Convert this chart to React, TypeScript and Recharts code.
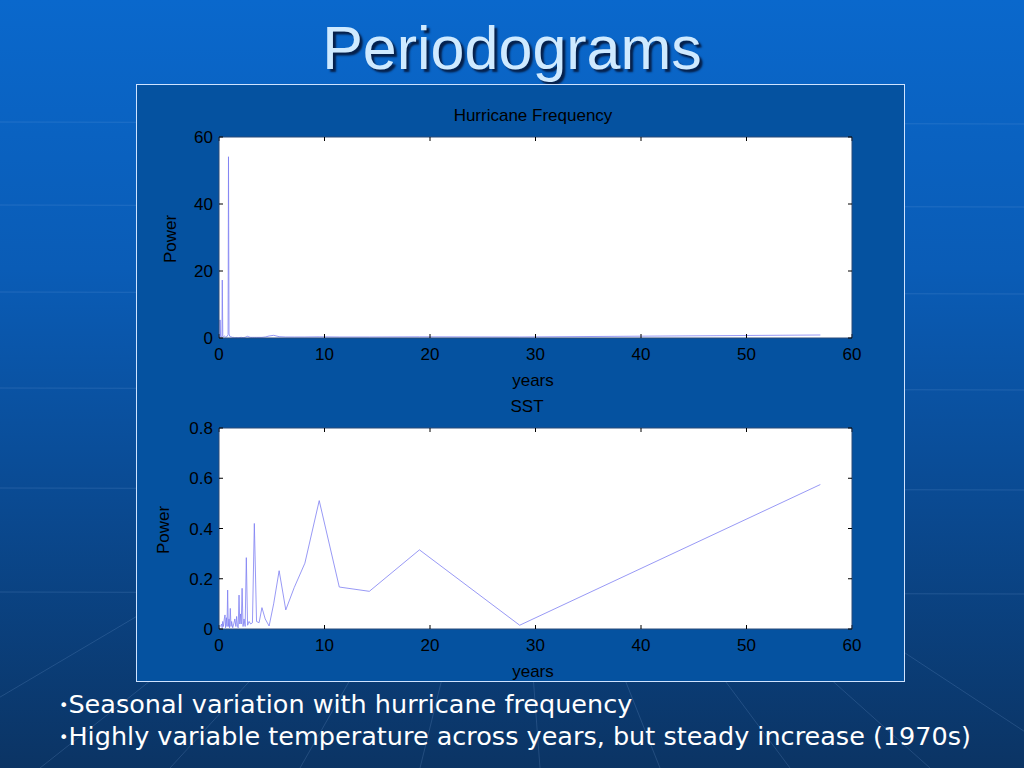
import React from 'react';
import { LineChart, Line, XAxis, YAxis } from 'recharts';

// period (years) and power
const hurricanePeriod = [
  0.05, 0.08, 0.1, 0.15, 0.2, 0.28, 0.31, 0.36, 0.4, 0.5, 0.6, 0.75, 0.86, 0.9, 0.95, 1.02,
  1.1, 1.19, 1.27, 1.36, 1.46, 1.54, 1.63, 1.73, 1.84, 1.97, 2.11, 2.28, 2.48, 2.59, 2.71,
  2.85, 3.0, 3.17, 3.35, 3.56, 3.8, 4.07, 4.38, 4.75, 5.18, 5.7, 6.33, 7.13, 8.14, 9.5,
  11.4, 14.25, 19, 28.5, 57,
];
const hurricanePower = [
  0.5, 0.2, 5.4, 0.5, 0.3, 0.5, 17.3, 0.4, 0.3, 0.6, 0.3, 0.4, 1.0, 54.1, 1.2, 0.5,
  0.4, 0.3, 0.2, 0.2, 0.1, 0.1, 0.15, 0.1, 0.1, 0.15, 0.2, 0.1, 0.2, 0.4, 0.5,
  0.3, 0.2, 0.2, 0.2, 0.2, 0.2, 0.2, 0.3, 0.6, 0.8, 0.4, 0.3, 0.3, 0.3, 0.35,
  0.3, 0.3, 0.35, 0.3, 0.9,
];

const sstPeriod = [
  0.15, 0.25, 0.3, 0.35, 0.42, 0.5, 0.57, 0.62, 0.7, 0.76, 0.82, 0.88, 0.95, 1.0, 1.07,
  1.14, 1.2, 1.3, 1.4, 1.5, 1.6, 1.67, 1.75, 1.82, 1.9, 1.97, 2.04, 2.11, 2.19, 2.28,
  2.375, 2.48, 2.59, 2.71, 2.85, 3.0, 3.17, 3.35, 3.56, 3.8, 4.07, 4.38, 4.75, 5.18,
  5.7, 6.33, 7.13, 8.14, 9.5, 11.4, 14.25, 19, 28.5, 57,
];
const sstPower = [
  0.01, 0.02, 0.005, 0.03, 0.01, 0.04, 0.056, 0.005, 0.045, 0.01, 0.155, 0.01, 0.04, 0.005, 0.082,
  0.01, 0.03, 0.005, 0.02, 0.04, 0.01, 0.05, 0.01, 0.005, 0.135, 0.02, 0.06, 0.02, 0.162, 0.01,
  0.04, 0.01, 0.284, 0.015, 0.03, 0.02, 0.025, 0.42, 0.03, 0.025, 0.085, 0.04, 0.012, 0.1,
  0.232, 0.076, 0.165, 0.262, 0.511, 0.167, 0.15, 0.315, 0.015, 0.575,
];

const xTicks = [0, 10, 20, 30, 40, 50, 60];
const hurricaneTicks = [0, 20, 40, 60];
const sstTicks = [0, 0.2, 0.4, 0.6, 0.8];

const bullets = [
  'Seasonal variation with hurricane frequency',
  'Highly variable temperature across years, but steady increase (1970s)',
];

const hurricaneData = hurricanePeriod.map((x, i) => ({ x, y: hurricanePower[i] }));
const sstData = sstPeriod.map((x, i) => ({ x, y: sstPower[i] }));

const FONT = '"Liberation Sans", Arial, sans-serif';
const tickStyle = { fill: '#000', fontSize: 17, fontFamily: FONT };
const lineColor = '#7d7ff2';
const boxColor = '#2b4a78';
const blank = () => '';

type PanelProps = {
  data: { x: number; y: number }[];
  yTicks: number[];
  yMax: number;
  top: number;
  height: number;
  marginTop: number;
  marginBottom: number;
};

const Panel: React.FC<PanelProps> = ({ data, yTicks, yMax, top, height, marginTop, marginBottom }) => (
  <div style={{ position: 'absolute', left: 136, top }}>
    <LineChart
      width={769}
      height={height}
      data={data}
      margin={{ top: marginTop, right: 43, bottom: marginBottom, left: 43 }}
    >
      <rect x={83} y={marginTop + 10} width={633} height={height - marginTop - marginBottom - 40} fill="#fff" />
      <XAxis
        xAxisId="b"
        type="number"
        dataKey="x"
        domain={[0, 60]}
        ticks={xTicks}
        allowDataOverflow
        height={30}
        tickSize={-4}
        tickMargin={14}
        tick={tickStyle}
        tickLine={{ stroke: '#000' }}
        axisLine={{ stroke: boxColor }}
      />
      <XAxis
        xAxisId="t"
        orientation="top"
        type="number"
        dataKey="x"
        domain={[0, 60]}
        ticks={xTicks}
        allowDataOverflow
        height={10}
        tickSize={-4}
        tickFormatter={blank}
        tickLine={{ stroke: '#000' }}
        axisLine={{ stroke: boxColor }}
      />
      <YAxis
        yAxisId="l"
        type="number"
        domain={[0, yMax]}
        ticks={yTicks}
        allowDataOverflow
        width={40}
        tickSize={-4}
        tickMargin={10}
        tick={tickStyle}
        tickLine={{ stroke: '#000' }}
        axisLine={{ stroke: boxColor }}
      />
      <YAxis
        yAxisId="r"
        orientation="right"
        type="number"
        domain={[0, yMax]}
        ticks={yTicks}
        allowDataOverflow
        width={10}
        tickSize={-4}
        tickFormatter={blank}
        tickLine={{ stroke: '#000' }}
        axisLine={{ stroke: boxColor }}
      />
      <Line
        xAxisId="b"
        yAxisId="l"
        type="linear"
        dataKey="y"
        stroke={lineColor}
        strokeWidth={0.8}
        dot={false}
        isAnimationActive={false}
      />
    </LineChart>
  </div>
);

const Txt: React.FC<{ x: number; y: number; rotate?: boolean; children: React.ReactNode }> = ({ x, y, rotate, children }) => (
  <div
    style={{
      position: 'absolute',
      left: x,
      top: y,
      transform: `translate(-50%, -50%)${rotate ? ' rotate(-90deg)' : ''}`,
      fontFamily: FONT,
      fontSize: 17,
      color: '#000',
      whiteSpace: 'nowrap',
      lineHeight: 1,
    }}
  >
    {children}
  </div>
);

export default function App() {
  return (
    <div
      style={{
        position: 'fixed',
        left: 0,
        top: 0,
        width: 1024,
        height: 768,
        overflow: 'hidden',
        background: 'linear-gradient(180deg, #0a68cc 0%, #0a5cb6 35%, #0a4a92 65%, #0b3464 100%)',
      }}
    >
      <svg width={1024} height={768} style={{ position: 'absolute', left: 0, top: 0 }}>
        {[122, 205, 292, 388, 488, 592].map((y) => (
          <line key={y} x1={0} y1={y} x2={1024} y2={y + 2} stroke="#8fb8e8" strokeOpacity={0.18} strokeWidth={1} />
        ))}
        {[-120, 40, 170, 300, 420, 540, 660, 790, 930, 1080].map((x, i) => (
          <line key={i} x1={x} y1={768} x2={512 + (x - 512) * 0.55} y2={600} stroke="#8fb8e8" strokeOpacity={0.18} strokeWidth={1} />
        ))}
      </svg>

      <div
        style={{
          position: 'absolute',
          left: 0,
          width: 1024,
          top: 18,
          textAlign: 'center',
          fontFamily: FONT,
          fontSize: 61,
          lineHeight: '61px',
          color: '#cfeaff',
          textShadow: '3px 3px 2px #06204a',
        }}
      >
        Periodograms
      </div>

      <div
        style={{
          position: 'absolute',
          left: 136,
          top: 84,
          width: 767,
          height: 596,
          background: '#0552a0',
          border: '1px solid #cfe3ff',
        }}
      />

      <Panel data={hurricaneData} yTicks={hurricaneTicks} yMax={60} top={84} height={300} marginTop={43} marginBottom={16} />
      <Panel data={sstData} yTicks={sstTicks} yMax={0.8} top={384} height={298} marginTop={34} marginBottom={23} />

      <Txt x={533} y={115}>Hurricane Frequency</Txt>
      <Txt x={170} y={239} rotate>Power</Txt>
      <Txt x={533} y={380}>years</Txt>
      <Txt x={527} y={406}>SST</Txt>
      <Txt x={163} y={530} rotate>Power</Txt>
      <Txt x={533} y={671}>years</Txt>

      <div
        style={{
          position: 'absolute',
          left: 59,
          top: 689,
          fontFamily: '"DejaVu Sans", Verdana, sans-serif',
          fontSize: 25.5,
          lineHeight: '31px',
          color: '#fff',
          whiteSpace: 'nowrap',
        }}
      >
        {bullets.map((b) => (
          <div key={b}>
            <span style={{ fontSize: 16, verticalAlign: 2 }}>•</span>
            {b}
          </div>
        ))}
      </div>
    </div>
  );
}
